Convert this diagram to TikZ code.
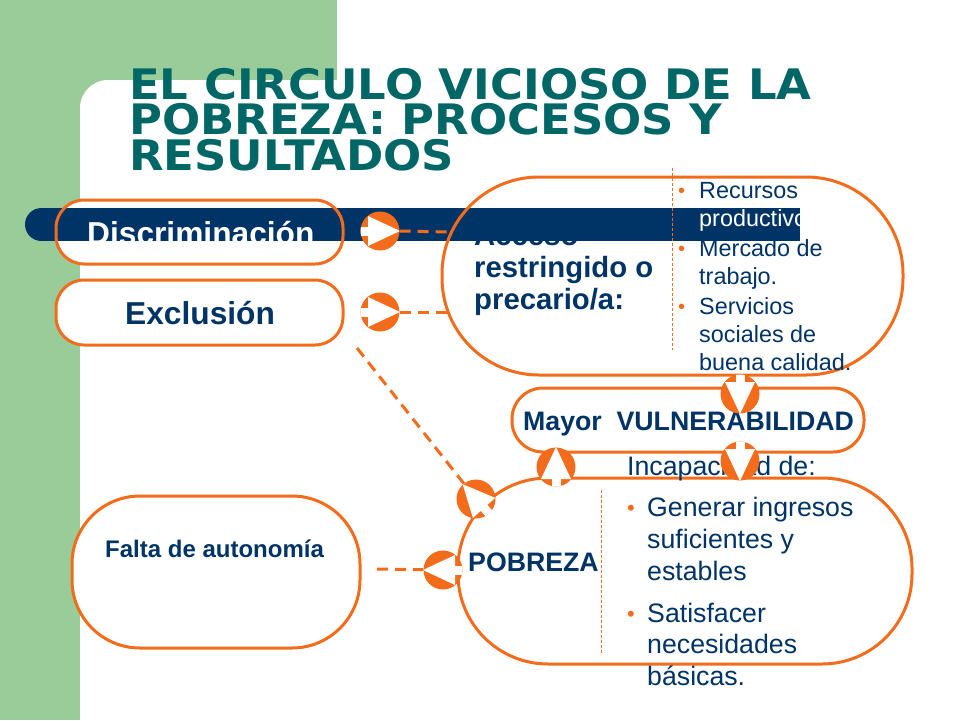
\documentclass[tikz,border=0pt]{standalone}
\usepackage{fontspec}
\setmainfont{Liberation Sans}
\newfontfamily\titlefont[FakeStretch=1.07]{DejaVu Sans}
\definecolor{grn}{RGB}{153,204,153}
\definecolor{ttl}{RGB}{0,102,102}
\definecolor{barb}{RGB}{0,51,102}
\definecolor{orng}{RGB}{242,108,28}
\definecolor{txtb}{RGB}{0,51,102}
\newcommand{\fsz}[2]{\fontsize{#1}{#2}\selectfont}
\newcommand{\arrowin}[2]{%
  \begin{scope}
    \clip (#1.center) circle[radius=19.5pt];
    \begin{scope}[shift={(#1.center)}, rotate=#2]
      \fill[white] (20pt,0pt) -- (-12pt,-15pt) -- (-12pt,15pt) -- cycle;
      \fill[white] (-22pt,-4.5pt) rectangle (-11pt,4.5pt);
    \end{scope}
  \end{scope}}
\begin{document}
\begin{tikzpicture}[x=1pt,y=-1pt,
  titletxt/.style={font=\titlefont\bfseries\fsz{42}{36}, text=ttl, inner sep=0pt, anchor=base west, text height=30pt, text depth=0pt},
  bigb/.style={font=\bfseries\fsz{31.7}{38}, inner sep=0pt, anchor=base west},
  accb/.style={font=\bfseries\fsz{29.3}{32}, text=txtb, inner sep=0pt, anchor=base west},
  midb/.style={font=\bfseries\fsz{26.7}{32}, text=txtb, inner sep=0pt, anchor=base west},
  smb/.style={font=\bfseries\fsz{24}{28}, text=txtb, inner sep=0pt, anchor=base west},
  regs/.style={font=\fsz{23.4}{28}, text=txtb, inner sep=0pt, anchor=base west},
  regm/.style={font=\fsz{26.7}{32}, text=txtb, inner sep=0pt, anchor=base west},
  bul/.style={font=\fsz{20}{20}, text=orng, inner sep=0pt, anchor=base west},
  obox/.style={draw=orng, line width=3pt, rectangle, inner sep=0pt},
  dconn/.style={draw=orng, line width=3pt, dash pattern=on 11pt off 7pt},
  sep/.style={draw=orng, line width=0.8pt, dash pattern=on 3pt off 2pt},
  arrowc/.style={circle, fill=orng, minimum size=39pt, inner sep=0pt}
]
\useasboundingbox (0,0) rectangle (960,720);
\fill[white] (0,0) rectangle (960,720);
% background
\fill[grn] (0,0) rectangle (337,80);
\fill[grn] (0,0) rectangle (80,720);
\fill[grn] (80,80) rectangle (108,108);
\fill[white] (108,108) circle[radius=28pt];
% title
\node[titletxt] (t1) at (129,99) {EL CIRCULO VICIOSO DE LA};
\node[titletxt] (t2) at (129,134) {POBREZA: PROCESOS Y};
\node[titletxt] (t3) at (129,170) {RESULTADOS};
% white fill under the first box
\fill[white, rounded corners=28pt] (56,200) rectangle (343,264);
% text hidden by the bar
\node[accb] (a1) at (474,245) {Acceso};
% bar
\fill[barb] (41,208) rectangle (800,241);
\fill[barb] (41.5,224.5) circle[radius=16.5pt];
% boxes
\node[obox, rounded corners=28pt, minimum width=287pt, minimum height=64pt] (disc) at (199.5,232) {};
\node[bigb, text=white] (disct) at (87,244) {Discriminación};
\node[obox, fill=white, rounded corners=28pt, minimum width=287pt, minimum height=65pt] (excl) at (199.5,312.5) {};
\node[bigb, text=txtb] (exclt) at (125,324) {Exclusión};
\node[obox, rounded corners=97pt, minimum width=461pt, minimum height=198pt] (acc) at (672.5,276) {};
\node[accb] (a2) at (474,277) {restringido o};
\node[accb] (a3) at (474,309) {precario/a:};
\draw[sep] (672,168) -- (672,350);
\node[bul] (ab1) at (678,197) {•};
\node[regs] (ar1) at (699,198) {Recursos};
\node[regs, text=white] (ar2) at (699,226) {productivos};
\node[bul] (ab2) at (678,255) {•};
\node[regs] (ar3) at (699,256) {Mercado de};
\node[regs] (ar4) at (699,284) {trabajo.};
\node[bul] (ab3) at (678,313) {•};
\node[regs] (ar5) at (699,314) {Servicios};
\node[regs] (ar6) at (699,342) {sociales de};
\node[regs] (ar7) at (699,370) {buena calidad.};
% vulnerability
\node[obox, fill=white, rounded corners=31pt, minimum width=352pt, minimum height=64pt] (vul) at (688,420) {};
\node[midb] (vult) at (523,430) {Mayor~ VULNERABILIDAD};
% poverty
\node[obox, fill=white, rounded corners=90pt, minimum width=454pt, minimum height=186pt] (pob) at (685,571) {};
\node[midb] (pobt) at (468,571) {POBREZA};
\draw[sep] (601,490) -- (601,654);
\node[regm] (p0) at (627,475) {Incapacidad de:};
\node[bul, font=\fsz{22}{22}] (pb1) at (627,515) {•};
\node[regm] (p1) at (647,516) {Generar ingresos};
\node[regm] (p2) at (647,548) {suficientes y};
\node[regm] (p3) at (647,580) {estables};
\node[bul, font=\fsz{22}{22}] (pb2) at (627,621) {•};
\node[regm] (p4) at (647,622) {Satisfacer};
\node[regm] (p5) at (647,653) {necesidades};
\node[regm] (p6) at (647,685) {básicas.};
% autonomy
\node[obox, fill=white, rounded corners=68pt, minimum width=288pt, minimum height=152pt] (falta) at (216,572) {};
\node[smb] (faltat) at (105,557) {Falta de autonomía};
% arrow circles
\node[arrowc] (ca) at (380,231) {};
\arrowin{ca}{0}
\node[arrowc] (cb) at (380,312) {};
\arrowin{cb}{0}
\node[arrowc] (cc) at (740,394) {};
\arrowin{cc}{-90}
\node[arrowc] (cd) at (740,461) {};
\arrowin{cd}{-90}
\node[arrowc] (ce) at (556,467) {};
\arrowin{ce}{90}
\node[arrowc] (cf) at (476,499) {};
\arrowin{cf}{132}
\node[arrowc] (cg) at (443,570) {};
\arrowin{cg}{180}
% connectors
\coordinate (accL1) at (449,232);
\coordinate (accL2) at (452,312);
\coordinate (exs) at (357,348);
\coordinate (fr) at (377,569);
\draw[dconn] (ca.east) -- (accL1);
\draw[dconn] (cb.east) -- (accL2);
\draw[dconn] (exs) -- (cf);
\draw[dconn] (fr) -- (cg);
\end{tikzpicture}
\end{document}
